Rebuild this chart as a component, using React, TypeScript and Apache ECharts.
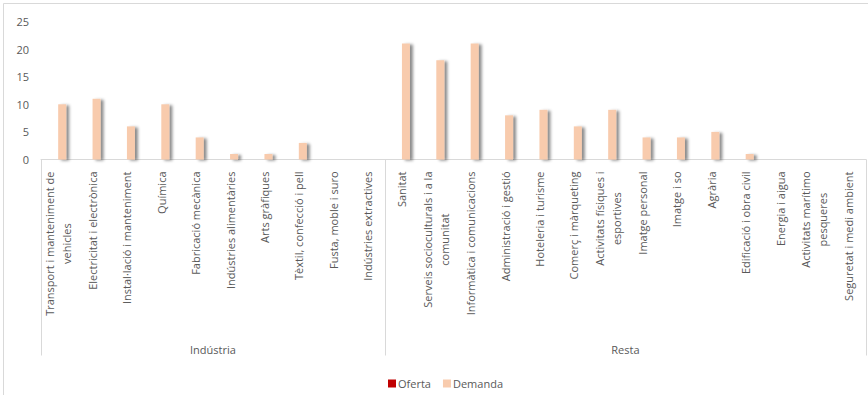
import React, { useEffect, useRef } from "react";
import * as echarts from "echarts";

const categories: string[] = [
  "Transport i manteniment de\nvehicles",
  "Electricitat i electrònica",
  "Instal·lació i manteniment",
  "Química",
  "Fabricació mecànica",
  "Indústries alimentàries",
  "Arts gràfiques",
  "Tèxtil, confecció i pell",
  "Fusta, moble i suro",
  "Indústries extractives",
  "Sanitat",
  "Serveis socioculturals i a la\ncomunitat",
  "Informàtica i comunicacions",
  "Administració i gestió",
  "Hoteleria i turisme",
  "Comerç i màrqueting",
  "Activitats físiques i\nesportives",
  "Imatge personal",
  "Imatge i so",
  "Agrària",
  "Edificació i obra civil",
  "Energia i aigua",
  "Activitats marítimo\npesqueres",
  "Seguretat i medi ambient",
];

const oferta: number[] = [0, 0, 0, 0, 0, 0, 0, 0, 0, 0, 0, 0, 0, 0, 0, 0, 0, 0, 0, 0, 0, 0, 0, 0];
const demanda: number[] = [10, 11, 6, 10, 4, 1, 1, 3, 0, 0, 21, 18, 21, 8, 9, 6, 9, 4, 4, 5, 1, 0, 0, 0];

const groups: string[] = ["Indústria", "Resta"];
const groupSizes: number[] = [10, 14];

const yTicks: number[] = [0, 5, 10, 15, 20, 25];

const FONT = "Open Sans";
const TXT = "#595959";
const LINE = "#d9d9d9";

export default function App() {
  const ref = useRef<HTMLDivElement>(null);
  useEffect(() => {
    document.body.style.margin = "0";
    if (!ref.current) return;
    const chart = echarts.init(ref.current, undefined, { renderer: "svg" });

    const bounds: number[] = [0];
    groupSizes.forEach((s, i) => bounds.push(bounds[i] + s));
    const centers: number[] = groupSizes.map((s, i) => bounds[i] + s / 2);

    chart.setOption({
      animation: false,
      textStyle: { fontFamily: FONT },
      grid: { left: 41, right: 2, top: 21.5, bottom: 235.5, containLabel: false },
      legend: {
        data: ["Oferta", "Demanda"],
        left: 383,
        top: 373,
        icon: "rect",
        itemWidth: 8,
        itemHeight: 8,
        itemGap: 12,
        textStyle: { color: TXT, fontSize: 11, fontFamily: FONT, padding: [0, 0, 0, -3] },
      },
      xAxis: [
        {
          type: "category",
          data: categories,
          axisLine: { lineStyle: { color: LINE } },
          axisTick: { show: false },
          axisLabel: {
            interval: 0,
            rotate: 90,
            margin: 12,
            formatter: (v: string) =>
              v
                .split("\n")
                .map((s) => `{c|${s}}`)
                .join("\n"),
            rich: {
              c: {
                align: "center",
                color: TXT,
                fontSize: 11,
                lineHeight: 17,
                fontFamily: FONT,
              },
            },
          },
        },
        {
          type: "value",
          min: 0,
          max: bounds[bounds.length - 1],
          position: "bottom",
          offset: 196,
          axisLine: { show: false },
          splitLine: { show: false },
          axisTick: {
            show: true,
            inside: true,
            length: 196,
            customValues: bounds,
            lineStyle: { color: LINE },
          },
          axisLabel: {
            show: true,
            inside: true,
            margin: 1,
            customValues: centers,
            color: TXT,
            fontSize: 11,
            fontFamily: FONT,
            formatter: (v: number) => {
              const i = centers.findIndex((c) => Math.abs(c - v) < 1e-6);
              return i >= 0 ? groups[i] : "";
            },
          },
        },
      ],
      yAxis: {
        type: "value",
        min: yTicks[0],
        max: yTicks[yTicks.length - 1],
        interval: 5,
        axisLine: { show: false },
        axisTick: { show: false },
        splitLine: { show: false },
        axisLabel: { color: TXT, fontSize: 11, margin: 12, fontFamily: FONT },
      },
      series: [
        {
          name: "Oferta",
          type: "bar",
          data: oferta,
          barWidth: 8,
          barGap: "0%",
          itemStyle: { color: "#C00000" },
        },
        {
          name: "Demanda",
          type: "bar",
          data: demanda,
          barWidth: 8,
          barGap: "0%",
          itemStyle: {
            color: "#F8CBAD",
            shadowColor: "rgba(0,0,0,0.45)",
            shadowBlur: 3,
            shadowOffsetX: 3,
            shadowOffsetY: 1,
          },
        },
      ],
      graphic: [
        {
          type: "rect",
          shape: { x: 3.5, y: 3.5, width: 900, height: 420 },
          style: { fill: "none", stroke: LINE, lineWidth: 1 },
          silent: true,
        },
      ],
    });
    return () => chart.dispose();
  }, []);
  return <div ref={ref} style={{ width: 868, height: 395 }} />;
}
